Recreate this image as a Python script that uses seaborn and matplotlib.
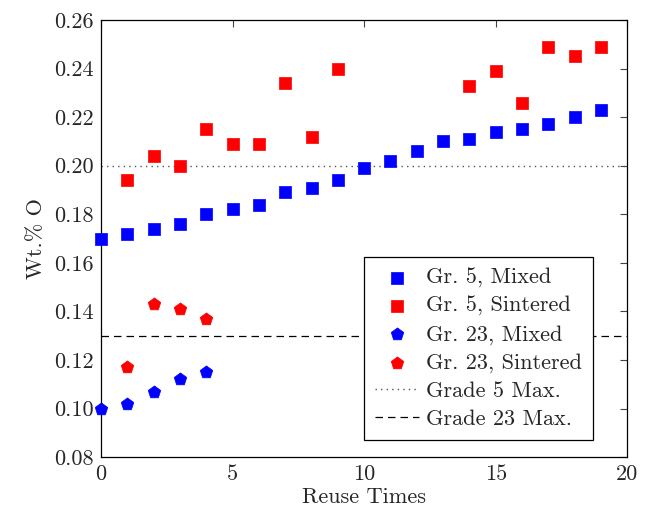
import matplotlib
matplotlib.use("Agg")
import matplotlib.pyplot as plt
import seaborn as sns
import pandas as pd

# Data
g5_mixed_x = list(range(20))
g5_mixed_y = [0.170, 0.172, 0.174, 0.176, 0.180, 0.182, 0.184, 0.189, 0.191, 0.194,
              0.199, 0.202, 0.206, 0.210, 0.211, 0.214, 0.215, 0.217, 0.220, 0.223]
g5_sint_x = [1, 2, 3, 4, 5, 6, 7, 8, 9, 14, 15, 16, 17, 18, 19]
g5_sint_y = [0.194, 0.204, 0.200, 0.215, 0.209, 0.209, 0.234, 0.212, 0.240,
             0.233, 0.239, 0.226, 0.249, 0.245, 0.249]
g23_mixed_x = [0, 1, 2, 3, 4]
g23_mixed_y = [0.100, 0.102, 0.107, 0.112, 0.115]
g23_sint_x = [1, 2, 3, 4]
g23_sint_y = [0.117, 0.143, 0.141, 0.137]
grade5_max = 0.20
grade23_max = 0.13

sns.set_style("white")
plt.rcParams['font.family'] = ['cmr10', 'DejaVu Serif']
plt.rcParams['axes.formatter.use_mathtext'] = True
plt.rcParams['mathtext.fontset'] = 'cm'

FS = 16

fig = plt.figure(figsize=(6.48, 5.12), dpi=100)
ax = fig.add_axes([0.156, 0.107, 0.812, 0.854])

series = [
    ("Gr. 5, Mixed", g5_mixed_x, g5_mixed_y, "#0000ff", "s", 75),
    ("Gr. 5, Sintered", g5_sint_x, g5_sint_y, "#ff0000", "s", 75),
    ("Gr. 23, Mixed", g23_mixed_x, g23_mixed_y, "#0000ff", "p", 90),
    ("Gr. 23, Sintered", g23_sint_x, g23_sint_y, "#ff0000", "p", 90),
]
for label, xs, ys, c, m, s in series:
    df = pd.DataFrame({"x": xs, "y": ys})
    sns.scatterplot(data=df, x="x", y="y", ax=ax, color=c, marker=m, s=s,
                    edgecolor=c, linewidth=0.5, label=label, zorder=3, clip_on=False)

ax.axhline(grade5_max, color="#555555", linestyle=(0, (1, 3)), linewidth=1.0, label="Grade 5 Max.")
ax.axhline(grade23_max, color="black", linestyle=(0, (6, 4)), linewidth=0.9, label="Grade 23 Max.")

ax.set_xlim(0, 20)
ax.set_ylim(0.08, 0.26)
ax.set_xticks([0, 5, 10, 15, 20])
ax.set_yticks([0.08, 0.10, 0.12, 0.14, 0.16, 0.18, 0.20, 0.22, 0.24, 0.26])
ax.set_yticklabels(["%.2f" % v for v in ax.get_yticks()])
ax.set_xticklabels([str(int(v)) for v in ax.get_xticks()])
ax.tick_params(direction="in", top=True, right=True, length=5, width=0.8,
               color="#444444", labelsize=FS, pad=5)
for sp in ax.spines.values():
    sp.set_color("black")
    sp.set_linewidth(0.9)
ax.set_xlabel("Reuse Times", fontsize=FS, labelpad=3)
ax.set_ylabel("Wt.% O", fontsize=FS, labelpad=6)

leg = ax.legend(loc="lower right", bbox_to_anchor=(0.935, 0.039), fontsize=FS,
                frameon=True, fancybox=False, edgecolor="black", framealpha=1,
                handlelength=2.0, labelspacing=0.38, borderpad=0.5, handletextpad=0.3,
                borderaxespad=0)
leg.get_frame().set_linewidth(0.9)

fig.savefig("out.png", dpi=100)
